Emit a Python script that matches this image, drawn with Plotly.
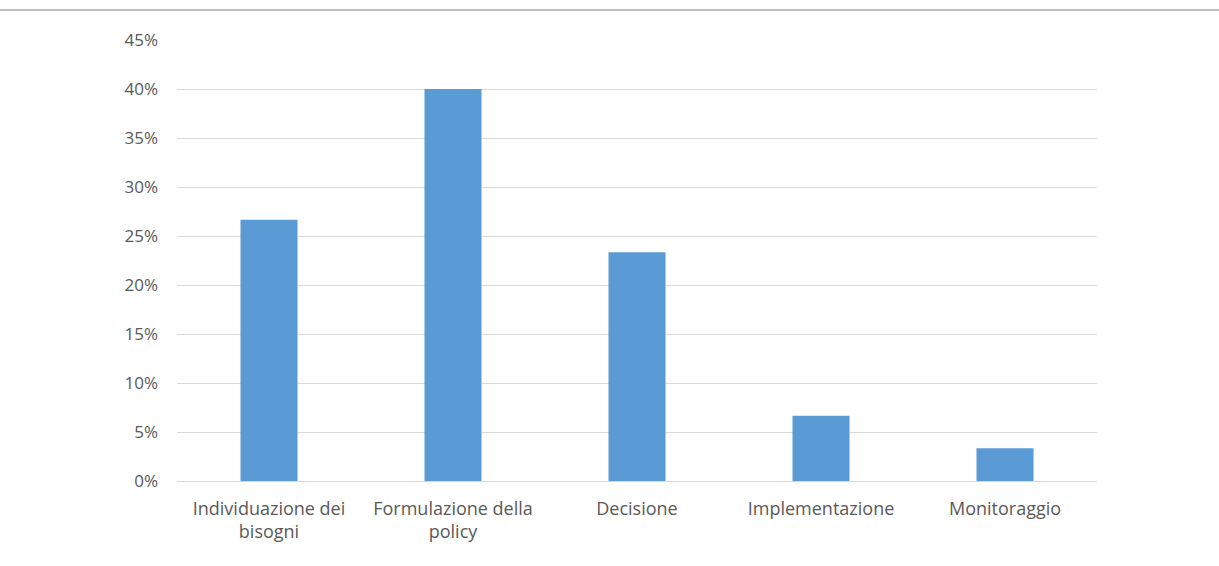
import plotly.graph_objects as go

categories = ["Individuazione dei<br>bisogni", "Formulazione della<br>policy", "Decisione",
              "Implementazione", "Monitoraggio"]
values = [26.67, 40.0, 23.33, 6.67, 3.33]
tick_vals = [0, 5, 10, 15, 20, 25, 30, 35, 40, 45]
tick_text = ["0%", "5%", "10%", "15%", "20%", "25%", "30%", "35%", "40%", "45%"]

W, H = 1219, 566
ml, mr, mt, mb = 177, 122, 40, 85

fig = go.Figure(go.Bar(x=categories, y=values, marker_color="#5b9bd5",
                       marker_line_width=0))

fig.update_layout(
    width=W, height=H,
    margin=dict(l=ml, r=mr, t=mt, b=mb),
    paper_bgcolor="white", plot_bgcolor="white",
    bargap=0.69,
    showlegend=False,
    font=dict(family="Open Sans, Liberation Sans, sans-serif", size=17, color="#595959"),
)
fig.update_yaxes(range=[0, 45], tickvals=tick_vals, ticktext=tick_text,
                 showgrid=True, gridcolor="#d9d9d9", gridwidth=1,
                 zeroline=False, showline=False, ticks="", ticklabelstandoff=18)
fig.update_xaxes(showline=True, linecolor="#d9d9d9", linewidth=1, ticks="",
                 showgrid=False, ticklabelstandoff=11, tickfont=dict(size=18))

pw = W - ml - mr
ph = H - mt - mb
fig.add_shape(type="line", xref="paper", yref="paper",
              x0=-ml / pw, x1=(W - ml) / pw,
              y0=1 + (mt - 10) / ph, y1=1 + (mt - 10) / ph,
              line=dict(color="#bfbfbf", width=2))

fig.write_html("out.html")
